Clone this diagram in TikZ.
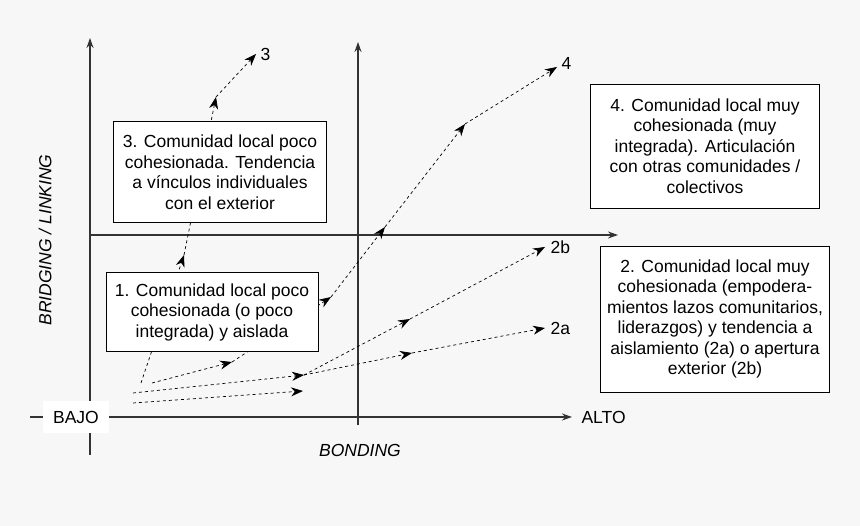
\documentclass[tikz,border=0pt]{standalone}
\usepackage{fontspec}
\setmainfont{Liberation Sans}
\usetikzlibrary{arrows.meta,positioning}

\tikzset{
	box/.style={draw, fill=white, align=center, inner sep=2pt, font=\fontsize{17.5}{20.5}\selectfont},
	axis/.style={-{Stealth[length=10pt,width=7pt]}, line width=1.3pt, black!80},
	trend/.style={-{Stealth[length=12pt,width=9pt]}, dashed, line width=0.7pt},
	lbl/.style={font=\fontsize{17.5}{20}\selectfont}
}

\begin{document}
\begin{tikzpicture}[x=1pt, y=-1pt]
	\useasboundingbox (0,0) rectangle (860,526);
	\fill [black!3] (0,0) rectangle (860,526);

	% Axes
	\coordinate (yb) at (90,455);  \coordinate (yt) at (90,38);
	\coordinate (xl) at (30,417);  \coordinate (xr) at (572,417);
	\coordinate (mb) at (358,425); \coordinate (mt) at (358,42);
	\coordinate (hl) at (90,235);  \coordinate (hr) at (618,235);
	\draw [axis] (yb) -- (yt);
	\draw [axis] (xl) -- (xr);
	\draw [axis] (mb) -- (mt);
	\draw [axis] (hl) -- (hr);
	\node [fill=white, lbl, minimum width=66, minimum height=32] (bajo) at (76,417) {BAJO};
	\node [lbl, right=6pt of xr] (alto) {ALTO};
	\node [lbl] (bonding) at (360,450) {\itshape BONDING};
	\node [lbl, rotate=90] (bridging) at (45,240) {\itshape BRIDGING / LINKING};

	% Waypoints
	\coordinate (s3) at (141,383);  \coordinate (a3) at (184,255);
	\coordinate (b3) at (216,97);   \coordinate (c3) at (256,54);
	\coordinate (s4) at (152,383);  \coordinate (a4) at (232,362);
	\coordinate (b4) at (331,297);  \coordinate (c4) at (385,227);
	\coordinate (d4) at (465,124);  \coordinate (e4) at (557,67);
	\coordinate (s2) at (133,393);  \coordinate (m2) at (304,375);
	\coordinate (a2b) at (410,319); \coordinate (e2b) at (545,247);
	\coordinate (a2a) at (412,353); \coordinate (e2a) at (545,328);
	\coordinate (s1) at (133,403);  \coordinate (e1) at (303,391);

	% Paths
	\draw [trend] (s3) -- (a3);  \draw [trend] (a3) -- (b3);  \draw [trend] (b3) -- (c3);
	\draw [trend] (s4) -- (a4);  \draw [trend] (a4) -- (b4);  \draw [trend] (b4) -- (c4);
	\draw [trend] (c4) -- (d4);  \draw [trend] (d4) -- (e4);
	\draw [trend] (s2) -- (m2);
	\draw [trend] (m2) -- (a2b); \draw [trend] (a2b) -- (e2b);
	\draw [trend] (m2) -- (a2a); \draw [trend] (a2a) -- (e2a);
	\draw [trend] (s1) -- (e1);
	\node [lbl, right=1pt of c3] (l3) {3};
	\node [lbl, above right=-6pt and 1pt of e4] (l4) {4};
	\node [lbl, right=2pt of e2b] (l2b) {2b};
	\node [lbl, right=2pt of e2a] (l2a) {2a};

	% Boxes
	\node [box, minimum width=212, minimum height=79] (q1) at (212,312)
		{1. Comunidad local poco\\cohesionada (o poco\\integrada) y aislada};
	\node [box, minimum width=213, minimum height=101] (q3) at (220,172)
		{3. Comunidad local poco\\cohesionada. Tendencia\\a vínculos individuales\\con el exterior};
	\node [box, minimum width=229, minimum height=124] (q4) at (705,146)
		{4. Comunidad local muy\\cohesionada (muy\\integrada). Articulación\\con otras comunidades /\\colectivos};
	\node [box, minimum width=229, minimum height=146] (q2) at (715,319)
		{2. Comunidad local muy\\cohesionada (empodera-\\mientos lazos comunitarios,\\liderazgos) y tendencia a\\aislamiento (2a) o apertura\\exterior (2b)};
\end{tikzpicture}
\end{document}
